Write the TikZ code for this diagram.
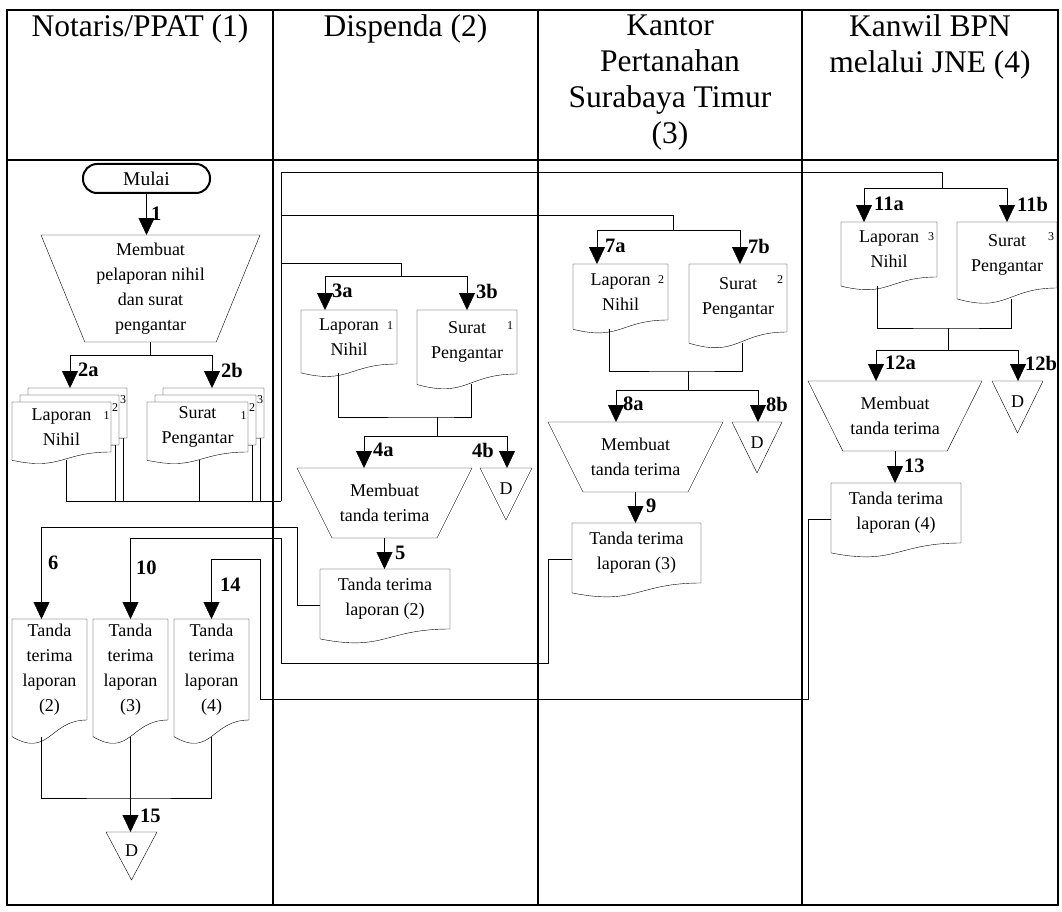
\documentclass[tikz,border=0pt]{standalone}
\usepackage{fontspec}
\setmainfont{Liberation Serif}
\usetikzlibrary{arrows.meta,calc,backgrounds}

\tikzset{
  box/.style={align=center, inner sep=0pt, outer sep=0pt, font=\fontsize{18}{25}\selectfont},
  term/.style={box, draw, rounded corners=14pt, font=\fontsize{19.5}{25}\selectfont},
  dtri/.style={box, text height=13pt, text depth=12pt},
  head/.style={align=center, inner sep=0pt, anchor=north, font=\fontsize{31.5}{36}\selectfont},
  num/.style={inner sep=0pt, anchor=west, font=\bfseries\fontsize{20.5}{20.5}\selectfont},
  sup/.style={inner sep=0pt, font=\fontsize{12}{12}\selectfont},
  arr/.style={-{Triangle[width=16pt,length=17pt]}},
  frame/.style={line width=2.2pt}
}

\begin{document}
\begin{tikzpicture}[x=1pt, y=-1pt, line width=2pt]
  \useasboundingbox (0,0) rectangle (1062,912);
  \draw[frame] (7,10) rectangle (1058,905);
  \draw[frame] (7,160) -- (1058,160);
  \foreach \x in {273,538,802}
    \draw[frame] (\x,10) -- (\x,905);

  \node[head] (h1) at (140,14) {Notaris/PPAT (1)};
  \node[head] (h2) at (405.5,14) {Dispenda (2)};
  \node[head] (h3) at (670,14) {Kantor\\Pertanahan\\Surabaya Timur\\(3)};
  \node[head] (h4) at (930,14) {Kanwil BPN\\melalui JNE (4)};

  % Notaris/PPAT
  \node[term, minimum width=127, minimum height=29] (mulai) at (146.5,178.5) {Mulai};
  \node[box, minimum width=219, minimum height=107] (mk1) at (150.5,288.5) {Membuat\\pelaporan nihil\\dan surat\\pengantar};
  \node[box, minimum width=99, minimum height=50] (lnc3) at (77.5,413) {};
  \node[box, minimum width=99, minimum height=50] (lnc2) at (69.5,420) {};
  \node[box, minimum width=99, minimum height=50] (ln) at (61.5,427) {Laporan\\Nihil};
  \node[box, minimum width=101, minimum height=50] (spc3) at (213.5,413) {};
  \node[box, minimum width=101, minimum height=50] (spc2) at (205.5,420) {};
  \node[box, minimum width=101, minimum height=50] (sp) at (197.5,427) {Surat\\Pengantar};
  \node[sup] (s-ln) at ($(ln.north east)+(-4.5,14)$) {1};
  \node[sup] (s-lnc2) at ($(lnc2.north east)+(-4,13)$) {2};
  \node[sup] (s-lnc3) at ($(lnc3.north east)+(-4,12)$) {3};
  \node[sup] (s-sp) at ($(sp.north east)+(-4.5,14)$) {1};
  \node[sup] (s-spc2) at ($(spc2.north east)+(-4,13)$) {2};
  \node[sup] (s-spc3) at ($(spc3.north east)+(-4,12)$) {3};
  \node[box, minimum width=75, minimum height=101] (tl2) at (49.5,669.5) {Tanda\\terima\\laporan\\(2)};
  \node[box, minimum width=75, minimum height=101] (tl3) at (130.5,669.5) {Tanda\\terima\\laporan\\(3)};
  \node[box, minimum width=75, minimum height=101] (tl4) at (211.5,669.5) {Tanda\\terima\\laporan\\(4)};
  \node[dtri, minimum width=51, minimum height=48] (d1) at (131.5,856) {D};

  % Dispenda
  \node[box, minimum width=96, minimum height=54] (ln2) at (349,337) {Laporan\\Nihil};
  \node[box, minimum width=100, minimum height=64] (sp2) at (467,342) {Surat\\Pengantar};
  \node[sup] (s-ln2) at ($(ln2.north east)+(-7,16)$) {1};
  \node[sup] (s-sp2) at ($(sp2.north east)+(-7,16)$) {1};
  \node[box, minimum width=175, minimum height=70] (mt2) at (384.5,503) {Membuat\\tanda terima};
  \node[dtri, minimum width=52, minimum height=52] (d2) at (506,494) {D};
  \node[box, minimum width=130, minimum height=60] (tt2) at (385,599) {Tanda terima\\laporan (2)};

  % Kantor Pertanahan
  \node[box, minimum width=95, minimum height=56] (ln3) at (620.5,292) {Laporan\\Nihil};
  \node[box, minimum width=98, minimum height=68] (sp3) at (738,298) {Surat\\Pengantar};
  \node[sup] (s-ln3) at ($(ln3.north east)+(-7,16)$) {2};
  \node[sup] (s-sp3) at ($(sp3.north east)+(-7,16)$) {2};
  \node[box, minimum width=175, minimum height=70] (mt3) at (635.5,457) {Membuat\\tanda terima};
  \node[dtri, minimum width=50, minimum height=51] (d3) at (757,447.5) {D};
  \node[box, minimum width=129, minimum height=60] (tt3) at (636.5,553) {Tanda terima\\laporan (3)};

  % Kanwil BPN
  \node[box, minimum width=96, minimum height=55] (ln4) at (889,249.5) {Laporan\\Nihil};
  \node[box, minimum width=100, minimum height=66] (sp4) at (1007,255) {Surat\\Pengantar};
  \node[sup] (s-ln4) at ($(ln4.north east)+(-6,15)$) {3};
  \node[sup] (s-sp4) at ($(sp4.north east)+(-6,15)$) {3};
  \node[box, minimum width=174, minimum height=70] (mt4) at (895,416) {Membuat\\tanda terima};
  \node[dtri, minimum width=51, minimum height=52] (d4) at (1017.5,407) {D};
  \node[box, minimum width=130, minimum height=60] (tt4) at (896,513) {Tanda terima\\laporan (4)};

  \begin{pgfonlayer}{background}
    \foreach \n in {lnc3,lnc2,ln,spc3,spc2,sp,tl2,tl3,tl4,ln2,sp2,tt2,ln3,sp3,tt3,ln4,sp4,tt4}
      \draw[fill=white] (\n.north west) -- (\n.north east) -- (\n.south east)
        .. controls (\n.south) and ($(\n.north)!1.38!(\n.south)$)
        .. ($(\n.north west)!1.165!(\n.south west)$) -- cycle;
    \foreach \n in {mk1,mt2,mt3,mt4}
      \draw (\n.north west) -- (\n.north east) -- ($(\n.south east)!.2!(\n.south west)$)
        -- ($(\n.south west)!.2!(\n.south east)$) -- cycle;
    \foreach \n in {d1,d2,d3,d4}
      \draw (\n.north west) -- (\n.north east) -- (\n.south) -- cycle;
  \end{pgfonlayer}

  \foreach \n in {ln,sp,tl2,tl3,tl4,ln2,sp2,ln3,sp3,ln4,sp4}
    \coordinate (\n-w) at ($(\n.north)!1.164!(\n.south)$);
  \foreach \n in {tt2,tt3,tt4}
    \coordinate (\n-l) at ($(\n.north west)!.6!(\n.south west)$);

  \coordinate (rs) at (281,501);
  \coordinate (rt) at (281,172);
  \coordinate (e3) at (281,215);
  \coordinate (e2) at (281,263);
  \coordinate (t4) at (942,188);
  \coordinate (t3) at (673,230);
  \coordinate (t2) at (401,276);
  \coordinate (a2) at (70,355);
  \coordinate (b2) at (212,355);
  \coordinate (a3) at (325,276);
  \coordinate (b3) at (467,276);
  \coordinate (j2) at (437,417);
  \coordinate (a4) at (364,436);
  \coordinate (b4) at (507,436);
  \coordinate (a7) at (597,230);
  \coordinate (b7) at (740,230);
  \coordinate (j3) at (688,371);
  \coordinate (a8) at (616,390);
  \coordinate (b8) at (758,390);
  \coordinate (a11) at (864,188);
  \coordinate (b11) at (1007,188);
  \coordinate (j4) at (948,328);
  \coordinate (a12) at (876,350);
  \coordinate (b12) at (1018,350);
  \coordinate (j1) at (131,798);
  \coordinate (r2) at (297,527);
  \coordinate (r3a) at (548,663);
  \coordinate (r3b) at (281,538);
  \coordinate (r4a) at (808,699);
  \coordinate (r4b) at (260,559);

  \draw[arr] (mulai.south) -- (mulai.south |- mk1.north);
  \draw (mk1.south) -- (mk1.south |- a2);
  \draw (a2) -- (b2);
  \draw[arr] (a2) -- (a2 |- lnc3.north);
  \draw[arr] (b2) -- (b2 |- spc3.north);
  \draw ([xshift=5pt]ln-w) |- (rs);
  \draw ([xshift=-4pt]lnc2.south east) |- (rs);
  \draw ([xshift=-4pt]lnc3.south east) |- (rs);
  \draw ([xshift=2pt]sp-w) |- (rs);
  \draw ([xshift=-4pt]spc2.south east) |- (rs);
  \draw ([xshift=-4pt]spc3.south east) |- (rs);
  \draw (rs) -- (rt) -| (t4);
  \draw (e3) -| (t3);
  \draw (e2) -| (t2);

  \draw (a3) -- (b3);
  \draw[arr] (a3) -- (a3 |- ln2.north);
  \draw[arr] (b3) -- (b3 |- sp2.north);
  \draw ([xshift=-11pt]ln2-w) |- (j2) -| ([xshift=4pt]sp2-w);
  \draw (j2) -- (j2 |- a4);
  \draw (a4) -- (b4);
  \draw[arr] (a4) -- (a4 |- mt2.north);
  \draw[arr] (b4) -- (b4 |- d2.north);
  \draw[arr] (mt2.south) -- (mt2.south |- tt2.north);

  \draw (a7) -- (b7);
  \draw[arr] (a7) -- (a7 |- ln3.north);
  \draw[arr] (b7) -- (b7 |- sp3.north);
  \draw ([xshift=-11.5pt]ln3-w) |- (j3) -| ([xshift=4pt]sp3-w);
  \draw (j3) -- (j3 |- a8);
  \draw (a8) -- (b8);
  \draw[arr] (a8) -- (a8 |- mt3.north);
  \draw[arr] (b8) -- (b8 |- d3.north);
  \draw[arr] (mt3.south) -- (mt3.south |- tt3.north);

  \draw (a11) -- (b11);
  \draw[arr] (a11) -- (a11 |- ln4.north);
  \draw[arr] (b11) -- (b11 |- sp4.north);
  \draw ([xshift=-12pt]ln4-w) |- (j4) -| ([xshift=4pt]sp4-w);
  \draw (j4) -- (j4 |- a12);
  \draw (a12) -- (b12);
  \draw[arr] (a12) -- (a12 |- mt4.north);
  \draw[arr] (b12) -- (b12 |- d4.north);
  \draw[arr] (mt4.south) -- (mt4.south |- tt4.north);

  \draw[arr] (tt2-l) -| (r2) -| ([xshift=-8pt]tl2.north);
  \draw[arr] (tt3-l) -| (r3a) -| (r3b) -| (tl3.north);
  \draw[arr] (tt4-l) -| (r4a) -| (r4b) -| (tl4.north);
  \draw ([xshift=-8pt]tl2-w) |- (j1) -| (tl4-w);
  \draw[arr] (tl3-w) -- (tl3-w |- d1.north);

  \node[num] (n1) at (151,214) {1};
  \node[num] (n2a) at (78,370) {2a};
  \node[num] (n2b) at (221,370) {2b};
  \node[num] (n3a) at (332,291) {3a};
  \node[num] (n3b) at (476,291) {3b};
  \node[num] (n4a) at (373,450) {4a};
  \node[num] (n4b) at (472,450) {4b};
  \node[num] (n5) at (395,553) {5};
  \node[num] (n6) at (48,563) {6};
  \node[num] (n7a) at (605,246) {7a};
  \node[num] (n7b) at (748,246) {7b};
  \node[num] (n8a) at (623,404) {8a};
  \node[num] (n8b) at (766,404) {8b};
  \node[num] (n9) at (646,506) {9};
  \node[num] (n10) at (136,568) {10};
  \node[num] (n11a) at (874,204) {11a};
  \node[num] (n11b) at (1017,204) {11b};
  \node[num] (n12a) at (885,363) {12a};
  \node[num] (n12b) at (1025,363) {12b};
  \node[num] (n13) at (904,466) {13};
  \node[num] (n14) at (220,585) {14};
  \node[num] (n15) at (140,816) {15};
\end{tikzpicture}
\end{document}
